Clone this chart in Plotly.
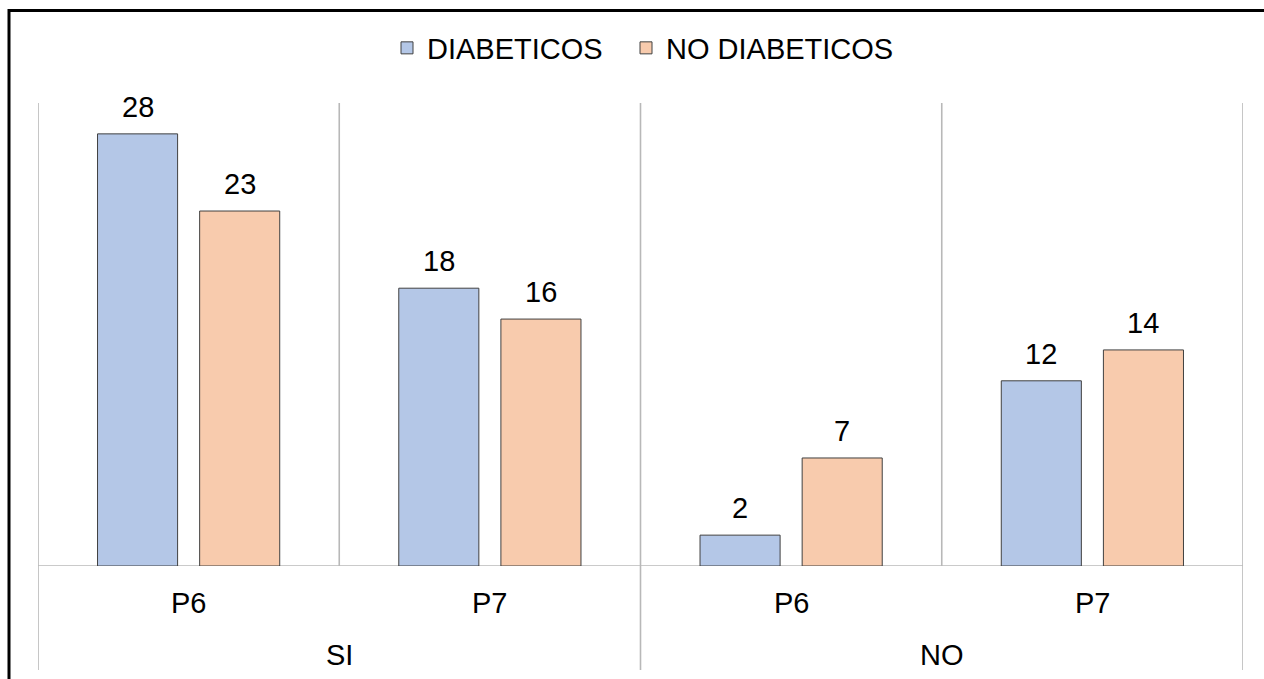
import plotly.graph_objects as go

# ---- data ----
groups = ["SI", "SI", "NO", "NO"]
categories = ["P6", "P7", "P6", "P7"]
diabeticos = [28, 18, 2, 12]
no_diabeticos = [23, 16, 7, 14]
series_names = ["DIABETICOS", "NO DIABETICOS"]

# ---- style ----
W, H = 1264, 679
ML, MR, MT, MB = 38, 21, 103, 113
PW, PH = W - ML - MR, H - MT - MB
FONT = "Arial, Liberation Sans, sans-serif"
FS = 29
BLUE, ORANGE = "#B4C7E7", "#F8CBAD"
EDGE = "#404040"
GRID = "#B8B8B8"
BARGAP = 0.322
BARGROUPGAP = 0.216
YMAX = 30

xs = list(range(len(categories)))

def px_to_py(py):
    return (MT + PH - py) / PH

def px_to_px(px):
    return (px - ML) / PW

fig = go.Figure()
for name, vals, col, lg in [(series_names[0], diabeticos, BLUE, "legend"),
                            (series_names[1], no_diabeticos, ORANGE, "legend2")]:
    fig.add_trace(go.Bar(
        x=xs, y=vals, name=name, legend=lg,
        marker=dict(color=col, line=dict(color=EDGE, width=1)),
    ))

# value labels
slot = (1 - BARGAP) / 2
for k, vals in enumerate([diabeticos, no_diabeticos]):
    off = -slot / 2 if k == 0 else slot / 2
    for i, v in enumerate(vals):
        fig.add_annotation(x=i + off, y=v, xref="x", yref="y", text=str(v),
                           showarrow=False, yanchor="bottom", yshift=9,
                           font=dict(family=FONT, size=FS, color="#000000"))

# group labels
ug = []
for g in groups:
    if g not in ug:
        ug.append(g)
for g in ug:
    idx = [i for i, gg in enumerate(groups) if gg == g]
    fig.add_annotation(x=sum(idx) / len(idx), y=px_to_py(655), xref="x", yref="paper",
                       text=g, showarrow=False, yanchor="middle",
                       font=dict(family=FONT, size=FS, color="#000000"))

# category labels
for i, c in enumerate(categories):
    fig.add_annotation(x=i, y=px_to_py(603), xref="x", yref="paper",
                       text=c, showarrow=False, yanchor="middle",
                       font=dict(family=FONT, size=FS, color="#000000"))

shapes = []
# vertical separators
n = len(categories)
for b in range(n + 1):
    xb = b - 0.5
    is_group_edge = b == 0 or b == n or groups[b - 1] != groups[b]
    y0 = px_to_py(670) if is_group_edge else 0
    shapes.append(dict(type="line", xref="x", yref="paper", x0=xb, x1=xb, y0=y0, y1=1,
                       line=dict(color=GRID, width=1.6), layer="below"))
# baseline
shapes.append(dict(type="line", xref="paper", yref="y", x0=0, x1=1, y0=0, y1=0,
                   line=dict(color=GRID, width=1.6), layer="below"))
# outer frame (top and left visible)
shapes.append(dict(type="rect", xref="paper", yref="paper",
                   x0=px_to_px(9), x1=px_to_px(1300), y0=px_to_py(10.5), y1=px_to_py(720),
                   line=dict(color="#000000", width=3)))

legend_common = dict(orientation="h", xanchor="left", y=px_to_py(48), yanchor="middle",
                     font=dict(family=FONT, size=FS, color="#000000"), itemclick=False,
                     itemdoubleclick=False, bgcolor="rgba(0,0,0,0)")

fig.update_layout(
    width=W, height=H,
    margin=dict(l=ML, r=MR, t=MT, b=MB),
    paper_bgcolor="white", plot_bgcolor="white",
    barmode="group", bargap=BARGAP, bargroupgap=BARGROUPGAP,
    showlegend=True,
    legend=dict(x=px_to_px(387), **legend_common),
    legend2=dict(x=px_to_px(626), **legend_common),
    xaxis=dict(range=[-0.5, n - 0.5], showgrid=False, zeroline=False, showticklabels=False,
               showline=False, ticks="", fixedrange=True),
    yaxis=dict(range=[0, YMAX], showgrid=False, zeroline=False, showticklabels=False,
               showline=False, ticks="", fixedrange=True),
    shapes=shapes,
    font=dict(family=FONT, size=FS),
    hovermode=False,
)

fig.write_html("out.html", config={"displayModeBar": False},
               post_script="document.body.style.margin='0px';document.body.style.padding='0px';")
